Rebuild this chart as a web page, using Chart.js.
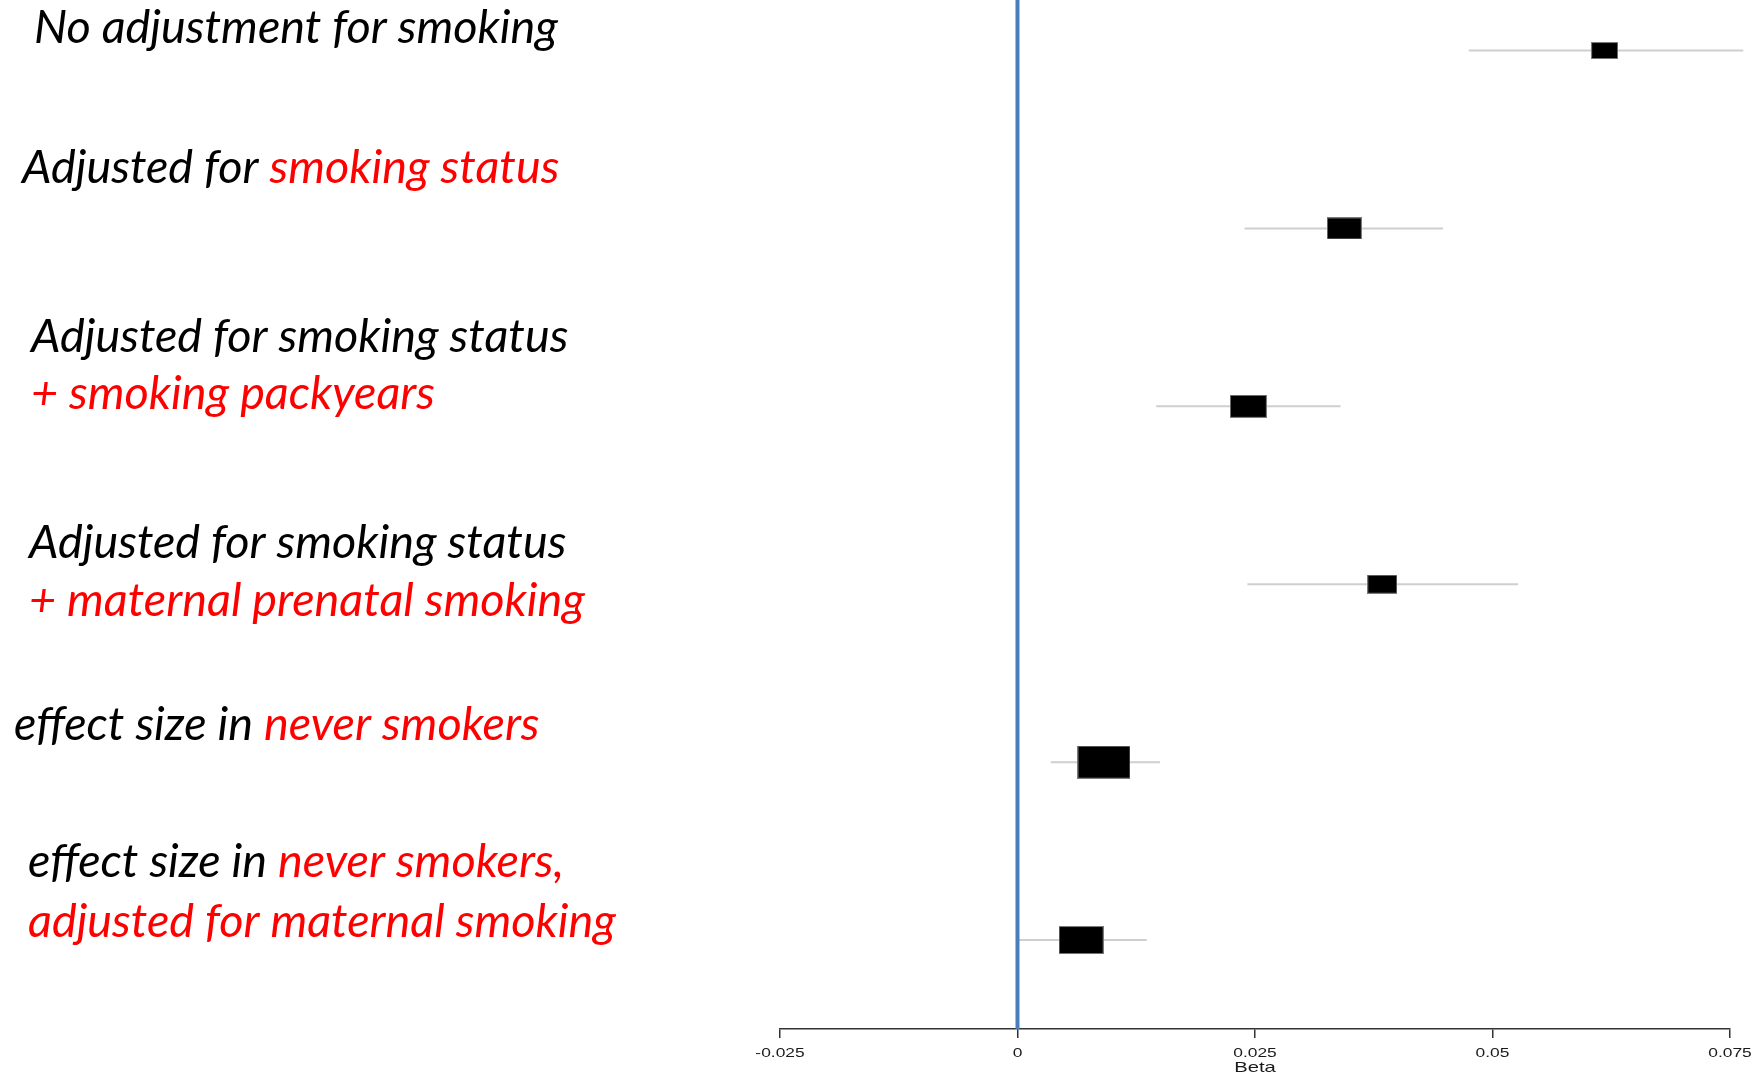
<!DOCTYPE html>
<html>
<head>
<meta charset="utf-8">
<script src="https://cdn.jsdelivr.net/npm/chart.js@4/dist/chart.umd.min.js"></script>
<style>
  html, body { margin: 0; padding: 0; background: #ffffff; }
  canvas { display: block; }
</style>
</head>
<body>
<canvas id="forest" width="1760" height="1073"></canvas>
<script>
// Model descriptions, one entry per row; each line is a list of [text, highlighted] pieces
const modelLabels = [
  [[["No adjustment for smoking", false]]],
  [[["Adjusted for ", false], ["smoking status", true]]],
  [[["Adjusted for smoking status", false]], [["+ smoking packyears", true]]],
  [[["Adjusted for smoking status", false]], [["+ maternal prenatal smoking", true]]],
  [[["effect size in ", false], ["never smokers", true]]],
  [[["effect size in ", false], ["never smokers,", true]], [["adjusted for maternal smoking", true]]]
];

// Effect estimates (beta) with 95% confidence limits
const betaEstimate = [0.0618, 0.0344, 0.0243, 0.0384, 0.0091, 0.0067];
const ciLower      = [0.0475, 0.0239, 0.0146, 0.0242, 0.0035, 0.0000];
const ciUpper      = [0.0764, 0.0448, 0.0340, 0.0527, 0.0150, 0.0136];

// Relative weight of each estimate (sets the box area)
const estimateWeight = [8.5, 13.4, 15.1, 10.3, 30.4, 22.3];

// Beta axis
const betaTicks = [-0.025, 0, 0.025, 0.05, 0.075];
const betaTickLabels = ["-0.025", "0", "0.025", "0.05", "0.075"];
const axisTitle = "Beta";

// ---------------------------------------------------------------------------
const rowIndex = betaEstimate.map((_, i) => i + 1);
const Y_MIN = 0.716, Y_MAX = 6.5;

// Box marker: black rectangle whose area follows the weight
function boxMarker(weight) {
  const h = Math.round(5.93 * Math.sqrt(weight));
  const w = Math.round(h * 1.6);
  const c = document.createElement('canvas');
  c.width = w; c.height = h;
  const g = c.getContext('2d');
  g.fillStyle = '#000000';
  g.fillRect(0, 0, w, h);
  g.strokeStyle = '#7a7a7a';
  g.lineWidth = 1;
  g.strokeRect(0.5, 0.5, w - 1, h - 1);
  return c;
}
const markers = estimateWeight.map(boxMarker);

const datasets = [];

// Reference line at zero (drawn on top)
datasets.push({
  data: [{ x: 0, y: Y_MIN }, { x: 0, y: Y_MAX }],
  showLine: true, borderColor: '#4a7ebb', borderWidth: 4,
  pointRadius: 0, clip: false
});

// Point estimates
datasets.push({
  data: rowIndex.map((r, i) => ({ x: betaEstimate[i], y: r })),
  showLine: false,
  pointStyle: ctx => markers[ctx.dataIndex],
  pointRadius: 10, pointHoverRadius: 10,
  clip: false
});

// Confidence intervals
rowIndex.forEach((r, i) => {
  datasets.push({
    data: [{ x: ciLower[i], y: r }, { x: ciUpper[i], y: r }],
    showLine: true, borderColor: '#cfcfcf', borderWidth: 2,
    pointRadius: 0, clip: false
  });
});

// Light null line underneath
datasets.push({
  data: [{ x: 0, y: Y_MIN }, { x: 0, y: Y_MAX }],
  showLine: true, borderColor: '#dcdcdc', borderWidth: 2,
  pointRadius: 0, clip: false
});

// Row descriptions on the left
const labelLayout = [
  { x: 34, y: [43] },
  { x: 22, y: [183] },
  { x: 31, y: [351.5, 409] },
  { x: 29, y: [558, 615.5] },
  { x: 14, y: [740] },
  { x: 28, y: [877, 936.5] }
];
const labelPlugin = {
  id: 'rowLabels',
  afterDraw(chart) {
    const ctx = chart.ctx;
    ctx.save();
    ctx.font = 'italic 100px Lato';
    const ref = ctx.measureText('No adjustment for smoking').width;
    const size = 100 * 524 / ref;
    ctx.font = `italic ${size}px Lato`;
    ctx.textBaseline = 'alphabetic';
    ctx.textAlign = 'left';
    modelLabels.forEach((lines, i) => {
      const lay = labelLayout[i];
      lines.forEach((pieces, j) => {
        let x = lay.x;
        pieces.forEach(([text, hl]) => {
          ctx.fillStyle = hl ? '#ff0000' : '#000000';
          ctx.fillText(text, x, lay.y[j]);
          x += ctx.measureText(text).width;
        });
      });
    });
    ctx.restore();
  }
};

// Beta axis tick labels and title, drawn wide at the scale's tick positions
const axisTextPlugin = {
  id: 'axisText',
  afterDraw(chart) {
    const ctx = chart.ctx;
    const xs = chart.scales.x;
    ctx.save();
    ctx.fillStyle = '#1a1a1a';
    ctx.textAlign = 'center';
    ctx.textBaseline = 'alphabetic';
    ctx.font = '12px "Liberation Sans"';
    const base = xs.top + 28;
    xs.ticks.forEach((t, i) => {
      const px = xs.getPixelForValue(t.value);
      ctx.save();
      ctx.translate(px, base);
      ctx.scale(1.45, 1);
      ctx.fillText(betaTickLabels[i], 0, 0);
      ctx.restore();
    });
    ctx.font = '15px "Liberation Sans"';
    ctx.translate((xs.left + xs.right) / 2, base + 15);
    ctx.scale(1.35, 1);
    ctx.fillText(axisTitle, 0, 0);
    ctx.restore();
  }
};

new Chart(document.getElementById('forest'), {
  type: 'scatter',
  data: { datasets },
  plugins: [labelPlugin, axisTextPlugin],
  options: {
    responsive: false,
    animation: false,
    devicePixelRatio: 1,
    layout: { autoPadding: false, padding: { left: 780, right: 30, top: 0, bottom: 0 } },
    plugins: { legend: { display: false }, tooltip: { enabled: false } },
    events: [],
    scales: {
      x: {
        type: 'linear',
        min: betaTicks[0],
        max: betaTicks[betaTicks.length - 1],
        afterBuildTicks: s => { s.ticks = betaTicks.map(v => ({ value: v })); },
        afterFit: s => { s.height = 44; s.paddingLeft = 0; s.paddingRight = 0; },
        border: { display: true, color: '#333333', width: 1.5 },
        grid: { drawOnChartArea: false, drawTicks: true, tickLength: 9, color: '#333333', lineWidth: 1.5 },
        ticks: { display: false },
        title: { display: false }
      },
      y: {
        type: 'linear', display: false, reverse: true,
        min: Y_MIN, max: Y_MAX
      }
    }
  }
});
</script>
</body>
</html>
